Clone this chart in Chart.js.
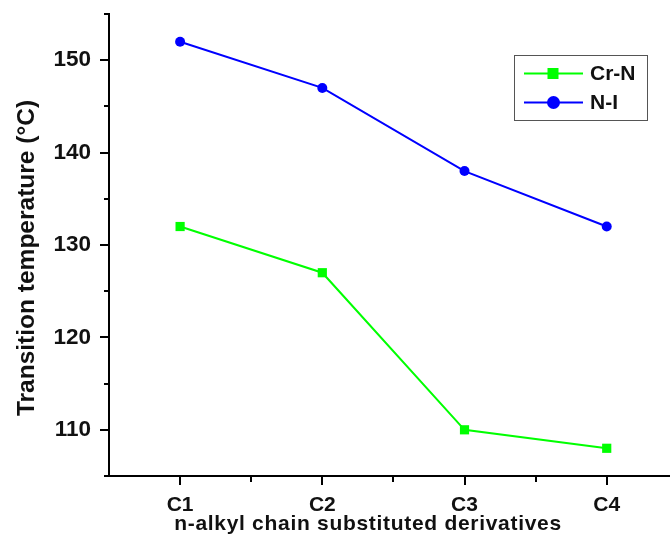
<!DOCTYPE html>
<html><head><meta charset="utf-8">
<script src="https://cdn.jsdelivr.net/npm/chart.js@4.4.0/dist/chart.umd.min.js"></script>
<style>html,body{margin:0;padding:0;background:#fff;overflow:hidden}#wrap{width:670px;height:535px}</style>
</head><body><div id="wrap"><canvas id="c" width="670" height="535"></canvas></div>
<script>
const categories = ['C1', 'C2', 'C3', 'C4'];
const crN = [132, 127, 110, 108];
const nI = [152, 147, 138, 132];
const yMajorTicks = [110, 120, 130, 140, 150];
const yMinorTicks = [105, 115, 125, 135, 145, 155];
const xMinorTicks = [1.5, 2.5, 3.5];
const xTitle = 'n-alkyl chain substituted derivatives';
const yTitle = 'Transition temperature (°C)';

const FONT = 'Liberation Sans, Arial, sans-serif';
const toXY = arr => arr.map((v, i) => ({x: i + 1, y: v}));

const tickPlugin = {
  id: 'ticksAndLegend',
  afterDraw(chart) {
    const ctx = chart.ctx;
    const xs = chart.scales.x, ys = chart.scales.y;
    const ca = chart.chartArea;
    ctx.save();
    ctx.strokeStyle = '#000';
    ctx.lineWidth = 2;
    ctx.beginPath();
    yMajorTicks.forEach(v => { const p = Math.round(ys.getPixelForValue(v)); ctx.moveTo(ca.left - 9, p); ctx.lineTo(ca.left, p); });
    yMinorTicks.forEach(v => { const p = Math.round(ys.getPixelForValue(v)); ctx.moveTo(ca.left - 5, p); ctx.lineTo(ca.left, p); });
    categories.forEach((c, i) => { const p = Math.round(xs.getPixelForValue(i + 1)); ctx.moveTo(p, ca.bottom); ctx.lineTo(p, ca.bottom + 9); });
    xMinorTicks.forEach(v => { const p = Math.round(xs.getPixelForValue(v)); ctx.moveTo(p, ca.bottom); ctx.lineTo(p, ca.bottom + 6); });
    ctx.stroke();

    // axis titles
    ctx.fillStyle = '#111';
    ctx.textAlign = 'center';
    ctx.textBaseline = 'alphabetic';
    ctx.font = 'bold 21px ' + FONT;
    try { ctx.letterSpacing = '0.7px'; } catch (e) {}
    ctx.fillText(xTitle, 368, 530);
    try { ctx.letterSpacing = '0px'; } catch (e) {}
    ctx.save();
    ctx.translate(27, 258);
    ctx.rotate(-Math.PI / 2);
    ctx.textBaseline = 'middle';
    ctx.font = 'bold 24.5px ' + FONT;
    ctx.fillText(yTitle, 0, 0);
    ctx.restore();

    // legend
    const bx = 514, by = 55, bw = 133, bh = 65;
    ctx.lineWidth = 1;
    ctx.strokeStyle = '#555';
    ctx.fillStyle = '#fff';
    ctx.fillRect(bx, by, bw, bh);
    ctx.strokeRect(bx + 0.5, by + 0.5, bw, bh);
    chart.data.datasets.forEach((ds, i) => {
      const y = 73.5 + i * 29;
      ctx.strokeStyle = ds.borderColor;
      ctx.lineWidth = 2;
      ctx.beginPath(); ctx.moveTo(524, y); ctx.lineTo(583, y); ctx.stroke();
      ctx.fillStyle = ds.backgroundColor;
      if (ds.pointStyle === 'rect') { ctx.fillRect(547.5, y - 5.5, 11, 11); }
      else { ctx.beginPath(); ctx.arc(553.5, y, 6.5, 0, Math.PI * 2); ctx.fill(); }
      ctx.fillStyle = '#111';
      ctx.font = 'bold 21px ' + FONT;
      ctx.textBaseline = 'middle';
      ctx.textAlign = 'left';
      ctx.fillText(ds.label, 590, y + 1);
    });
    ctx.restore();
  }
};

new Chart(document.getElementById('c'), {
  type: 'line',
  data: {
    datasets: [
      {label: 'Cr-N', data: toXY(crN), borderColor: '#00ff00', backgroundColor: '#00ff00', borderWidth: 2,
       pointStyle: 'rect', pointRadius: 6.5, pointHoverRadius: 6.5, pointBorderWidth: 0},
      {label: 'N-I', data: toXY(nI), borderColor: '#0000ff', backgroundColor: '#0000ff', borderWidth: 2,
       pointStyle: 'circle', pointRadius: 5, pointHoverRadius: 5, pointBorderWidth: 0}
    ]
  },
  options: {
    responsive: false,
    animation: false,
    layout: {autoPadding: false, padding: {top: 14, right: 0, left: 0, bottom: 0}},
    plugins: {legend: {display: false}, tooltip: {enabled: false}},
    scales: {
      x: {
        type: 'linear', min: 0.5, max: 4.445,
        afterBuildTicks: s => { s.ticks = categories.map((c, i) => ({value: i + 1})); },
        afterFit: s => { s.height = 59; s.paddingLeft = 0; s.paddingRight = 0; },
        ticks: {callback: v => categories[v - 1] || '', color: '#111', font: {family: FONT, size: 21, weight: 'bold'}, padding: 9, maxRotation: 0, autoSkip: false},
        grid: {display: true, drawOnChartArea: false, drawTicks: true, tickLength: 8, color: 'rgba(0,0,0,0)'},
        border: {display: true, color: '#000', width: 2},
        title: {display: false}
      },
      y: {
        min: 105, max: 155,
        afterBuildTicks: s => { s.ticks = yMajorTicks.map(v => ({value: v})); },
        afterFit: s => { s.width = 109; s.paddingTop = 0; s.paddingBottom = 0; },
        ticks: {color: '#111', font: {family: FONT, size: 22.5, weight: 'bold'}, padding: 10},
        grid: {display: true, drawOnChartArea: false, drawTicks: true, tickLength: 8, color: 'rgba(0,0,0,0)'},
        border: {display: true, color: '#000', width: 2},
        title: {display: false}
      }
    }
  },
  plugins: [tickPlugin]
});
</script></body></html>
